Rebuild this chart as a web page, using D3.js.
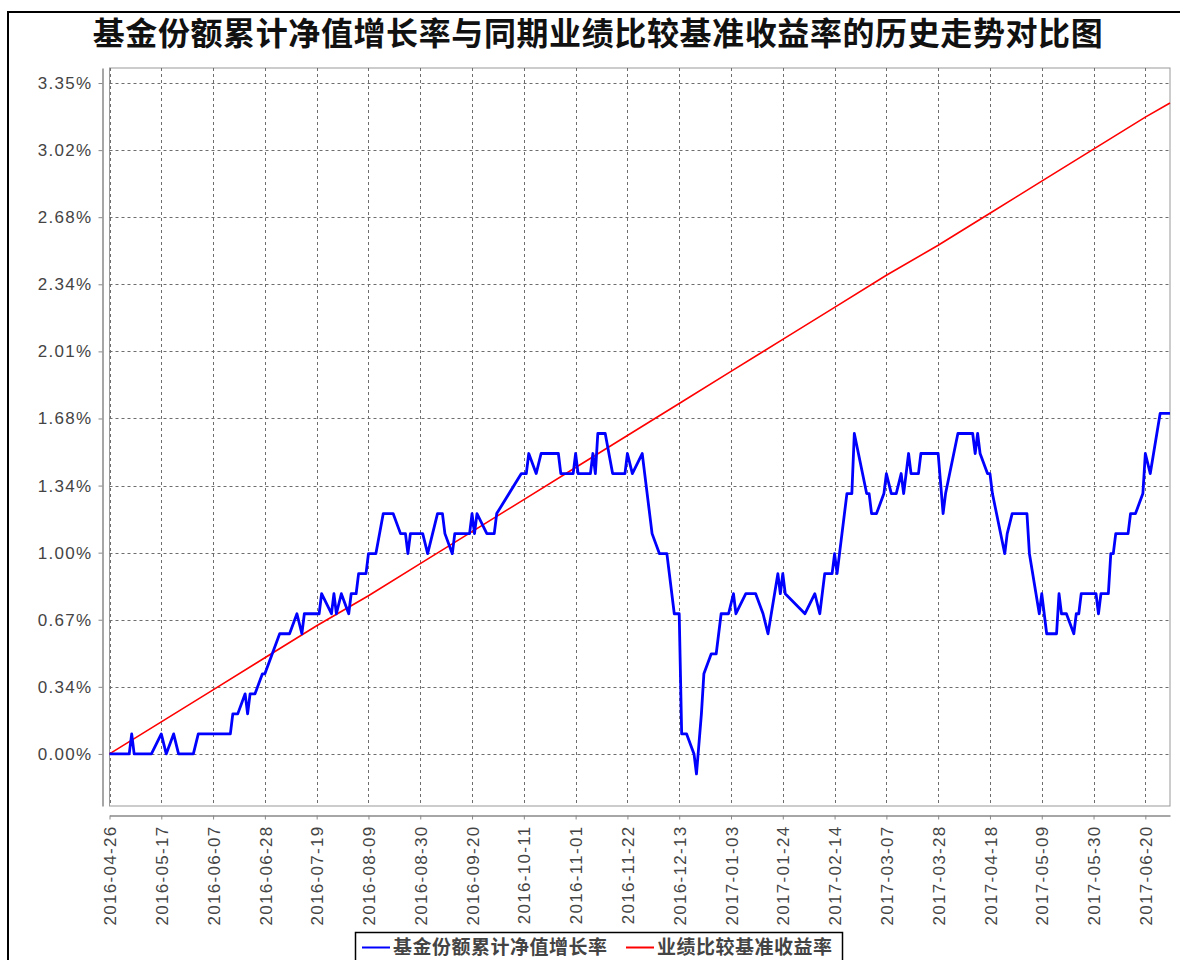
<!DOCTYPE html>
<html>
<head>
<meta charset="utf-8">
<script src="https://cdn.jsdelivr.net/npm/d3@7"></script>
<style>
  body { margin: 0; background: #fff; }
  svg { display: block; }
</style>
</head>
<body>
<svg></svg>
<script>
 // fund cumulative NAV growth (%)
 let fundDates = [
  '2016-04-26','2016-05-04','2016-05-05','2016-05-06','2016-05-13','2016-05-17','2016-05-19','2016-05-22','2016-05-24','2016-05-30',
  '2016-06-01','2016-06-14','2016-06-15','2016-06-17','2016-06-20','2016-06-21','2016-06-22','2016-06-24','2016-06-27','2016-06-28',
  '2016-07-01','2016-07-04','2016-07-08','2016-07-11','2016-07-13','2016-07-14','2016-07-20','2016-07-21','2016-07-25','2016-07-26',
  '2016-07-27','2016-07-29','2016-08-01','2016-08-02','2016-08-04','2016-08-05','2016-08-08','2016-08-09','2016-08-12','2016-08-15',
  '2016-08-19','2016-08-22','2016-08-24','2016-08-25','2016-08-26','2016-08-31','2016-09-02','2016-09-06','2016-09-08','2016-09-09',
  '2016-09-12','2016-09-13','2016-09-19','2016-09-20','2016-09-21','2016-09-22','2016-09-26','2016-09-29','2016-09-30','2016-10-10',
  '2016-10-12','2016-10-13','2016-10-16','2016-10-18','2016-10-25','2016-10-26','2016-10-31','2016-11-01','2016-11-02','2016-11-07',
  '2016-11-08','2016-11-09','2016-11-10','2016-11-13','2016-11-16','2016-11-21','2016-11-22','2016-11-24','2016-11-28','2016-11-29',
  '2016-12-01','2016-12-02','2016-12-05','2016-12-08','2016-12-11','2016-12-13','2016-12-14','2016-12-16','2016-12-19','2016-12-20',
  '2016-12-22','2016-12-23','2016-12-26','2016-12-28','2016-12-30','2017-01-02','2017-01-04','2017-01-05','2017-01-09','2017-01-13',
  '2017-01-16','2017-01-18','2017-01-22','2017-01-23','2017-01-24','2017-01-25','2017-02-02','2017-02-06','2017-02-08','2017-02-10',
  '2017-02-13','2017-02-14','2017-02-15','2017-02-16','2017-02-19','2017-02-21','2017-02-22','2017-02-27','2017-02-28','2017-03-01',
  '2017-03-03','2017-03-06','2017-03-07','2017-03-09','2017-03-11','2017-03-13','2017-03-14','2017-03-15','2017-03-16','2017-03-17',
  '2017-03-20','2017-03-21','2017-03-28','2017-03-30','2017-03-31','2017-04-05','2017-04-11','2017-04-12','2017-04-13','2017-04-14',
  '2017-04-17','2017-04-18','2017-04-19','2017-04-24','2017-04-25','2017-04-27','2017-05-03','2017-05-04','2017-05-08','2017-05-09',
  '2017-05-10','2017-05-11','2017-05-15','2017-05-16','2017-05-17','2017-05-19','2017-05-22','2017-05-23','2017-05-24','2017-05-25',
  '2017-05-31','2017-06-01','2017-06-02','2017-06-05','2017-06-06','2017-06-07','2017-06-08','2017-06-13','2017-06-14','2017-06-16',
  '2017-06-19','2017-06-20','2017-06-22','2017-06-26','2017-06-30'
 ];
 let fundValues = [
  0.0, 0.0, 0.1, 0.0, 0.0, 0.1, 0.0, 0.1, 0.0, 0.0,
  0.1, 0.1, 0.2, 0.2, 0.3, 0.2, 0.3, 0.3, 0.4, 0.4,
  0.5, 0.6, 0.6, 0.7, 0.6, 0.7, 0.7, 0.8, 0.7, 0.8,
  0.7, 0.8, 0.7, 0.8, 0.8, 0.9, 0.9, 1.0, 1.0, 1.2,
  1.2, 1.1, 1.1, 1.0, 1.1, 1.1, 1.0, 1.2, 1.2, 1.1,
  1.0, 1.1, 1.1, 1.2, 1.1, 1.2, 1.1, 1.1, 1.2, 1.4,
  1.4, 1.5, 1.4, 1.5, 1.5, 1.4, 1.4, 1.5, 1.4, 1.4,
  1.5, 1.4, 1.6, 1.6, 1.4, 1.4, 1.5, 1.4, 1.5, 1.4,
  1.2, 1.1, 1.0, 1.0, 0.7, 0.7, 0.1, 0.1, 0.0, -0.1,
  0.2, 0.4, 0.5, 0.5, 0.7, 0.7, 0.8, 0.7, 0.8, 0.8,
  0.7, 0.6, 0.9, 0.8, 0.9, 0.8, 0.7, 0.8, 0.7, 0.9,
  0.9, 1.0, 0.9, 1.0, 1.3, 1.3, 1.6, 1.3, 1.3, 1.2,
  1.2, 1.3, 1.4, 1.3, 1.3, 1.4, 1.3, 1.4, 1.5, 1.4,
  1.4, 1.5, 1.5, 1.2, 1.3, 1.6, 1.6, 1.5, 1.6, 1.5,
  1.4, 1.4, 1.3, 1.0, 1.1, 1.2, 1.2, 1.0, 0.7, 0.8,
  0.7, 0.6, 0.6, 0.8, 0.7, 0.7, 0.6, 0.7, 0.7, 0.8,
  0.8, 0.7, 0.8, 0.8, 1.0, 1.0, 1.1, 1.1, 1.2, 1.2,
  1.3, 1.5, 1.4, 1.7, 1.7
 ];

 // benchmark return (%)
 let benchDates = [
  '2016-04-26','2016-05-17','2016-06-07','2016-06-28','2016-07-19','2016-08-09','2016-08-30','2016-09-20','2016-10-11','2016-11-01',
  '2016-11-22','2016-12-13','2017-01-03','2017-01-24','2017-02-14','2017-03-07','2017-03-28','2017-04-18','2017-05-09','2017-05-30',
  '2017-06-20','2017-06-30'
 ];
 let benchValues = [
  0.00, 0.16, 0.32, 0.48, 0.64, 0.79, 0.95, 1.11, 1.27, 1.43,
  1.59, 1.75, 1.91, 2.07, 2.23, 2.39, 2.54, 2.70, 2.86, 3.02,
  3.18, 3.25
 ];

 let xTicks = [
  '2016-04-26','2016-05-17','2016-06-07','2016-06-28','2016-07-19','2016-08-09','2016-08-30','2016-09-20','2016-10-11','2016-11-01',
  '2016-11-22','2016-12-13','2017-01-03','2017-01-24','2017-02-14','2017-03-07','2017-03-28','2017-04-18','2017-05-09','2017-05-30',
  '2017-06-20'
 ];
 let yTicks = [0, 0.335, 0.67, 1.005, 1.34, 1.675, 2.01, 2.345, 2.68, 3.015, 3.35];
 let yTickLabels = ['0.00%','0.34%','0.67%','1.00%','1.34%','1.68%','2.01%','2.34%','2.68%','3.02%','3.35%'];

 let title = '基金份额累计净值增长率与同期业绩比较基准收益率的历史走势对比图';
 let seriesNames = ['基金份额累计净值增长率', '业绩比较基准收益率'];
 let seriesColors = ['#0000ff', '#ff0000'];

 let width = 1180;
 let height = 960;
 let plot = { left: 109.5, right: 1170, top: 68, bottom: 806 };
 let axisFont = '"Liberation Sans", Arial, sans-serif';
 let cjkFont = '"Noto Sans CJK SC", sans-serif';

 let parseDate = d3.timeParse('%Y-%m-%d');
 let formatDate = d3.timeFormat('%Y-%m-%d');

 let svg = d3.select('svg')
    .attr('width', width)
    .attr('height', height);

 let xScale = d3.scaleTime()
    .domain([parseDate('2016-04-26'), parseDate('2017-06-30')])
    .range([plot.left, plot.right]);

 let yScale = d3.scaleLinear()
    .domain([-0.26, 3.425])
    .range([plot.bottom, plot.top]);

 // outer black frame (cut off on the right and bottom)
 svg.append('rect')
    .attr('x', 8).attr('y', 12)
    .attr('width', 1300).attr('height', 1100)
    .attr('fill', 'none')
    .attr('stroke', '#000')
    .attr('stroke-width', 2);

 svg.append('text')
    .attr('x', 598)
    .attr('y', 45)
    .attr('text-anchor', 'middle')
    .style('font-family', cjkFont)
    .style('font-weight', 700)
    .style('font-size', '32px')
    .style('letter-spacing', '0.6px')
    .attr('fill', '#111')
    .text(title);

 // plot background + grid
 svg.append('rect')
    .attr('x', plot.left).attr('y', plot.top)
    .attr('width', plot.right - plot.left)
    .attr('height', plot.bottom - plot.top)
    .attr('fill', '#fff')
    .attr('stroke', '#999')
    .attr('stroke-width', 1);

 svg.append('g')
    .selectAll('line')
    .data(yTicks)
    .enter()
    .append('line')
    .attr('x1', plot.left).attr('x2', plot.right)
    .attr('y1', d => Math.round(yScale(d)) + 0.5)
    .attr('y2', d => Math.round(yScale(d)) + 0.5)
    .attr('stroke', '#6e6e6e')
    .attr('stroke-dasharray', '3,3');

 svg.append('g')
    .selectAll('line')
    .data(xTicks)
    .enter()
    .append('line')
    .attr('x1', d => Math.round(xScale(parseDate(d))) + 0.5)
    .attr('x2', d => Math.round(xScale(parseDate(d))) + 0.5)
    .attr('y1', plot.top).attr('y2', plot.bottom)
    .attr('stroke', '#6e6e6e')
    .attr('stroke-dasharray', '3,3');

 // axes, offset from the plot like the original
 let yAxis = d3.axisLeft(yScale)
    .tickValues(yTicks)
    .tickFormat((d, i) => yTickLabels[i])
    .tickSizeInner(4)
    .tickSizeOuter(0)
    .tickPadding(6);

 let yAxisG = svg.append('g')
    .attr('transform', 'translate(102.5, 0)')
    .call(yAxis);

 let xAxis = d3.axisBottom(xScale)
    .tickValues(xTicks.map(parseDate))
    .tickFormat(formatDate)
    .tickSizeInner(4)
    .tickSizeOuter(0);

 let xAxisG = svg.append('g')
    .attr('transform', 'translate(0, 815.5)')
    .call(xAxis);

 xAxisG.selectAll('text')
    .attr('transform', 'rotate(-90)')
    .attr('x', -10)
    .attr('y', 0)
    .attr('dy', '0.36em')
    .attr('text-anchor', 'end');

 [yAxisG, xAxisG].forEach(g => {
  g.select('.domain').attr('stroke', '#888').attr('stroke-width', 1.5);
  g.selectAll('.tick line').attr('stroke', '#888');
  g.selectAll('text')
    .style('font-family', axisFont)
    .style('font-size', '17px')
    .style('letter-spacing', '1.3px')
    .attr('fill', '#444');
 });

 // lines
 let line = d3.line()
    .x(d => xScale(d.date))
    .y(d => yScale(d.value));

 let plotG = svg.append('g');

 let benchPoints = benchDates.map((d, i) => ({ date: parseDate(d), value: benchValues[i] }));
 let fundPoints = fundDates.map((d, i) => ({ date: parseDate(d), value: fundValues[i] }));

 plotG.append('path')
    .datum(benchPoints)
    .attr('d', line)
    .attr('fill', 'none')
    .attr('stroke', seriesColors[1])
    .attr('stroke-width', 1.6);

 plotG.append('path')
    .datum(fundPoints)
    .attr('d', line)
    .attr('fill', 'none')
    .attr('stroke', seriesColors[0])
    .attr('stroke-width', 2.8)
    .attr('stroke-linejoin', 'round');

 // legend
 let legend = svg.append('g');
 legend.append('rect')
    .attr('x', 355.5).attr('y', 932.5)
    .attr('width', 487).attr('height', 40)
    .attr('fill', '#fff')
    .attr('stroke', '#000')
    .attr('stroke-width', 1.5);

 let legendItems = [
  { x: 362, name: seriesNames[0], color: seriesColors[0] },
  { x: 626, name: seriesNames[1], color: seriesColors[1] }
 ];

 legendItems.forEach(item => {
  legend.append('line')
    .attr('x1', item.x).attr('x2', item.x + 28)
    .attr('y1', 947.5).attr('y2', 947.5)
    .attr('stroke', item.color)
    .attr('stroke-width', 2);
  legend.append('text')
    .attr('x', item.x + 31)
    .attr('y', 947)
    .attr('dy', '0.35em')
    .style('font-family', cjkFont)
    .style('font-weight', 700)
    .style('font-size', '19px')
    .style('letter-spacing', '0.5px')
    .attr('fill', '#444')
    .text(item.name);
 });
</script>
</body>
</html>
